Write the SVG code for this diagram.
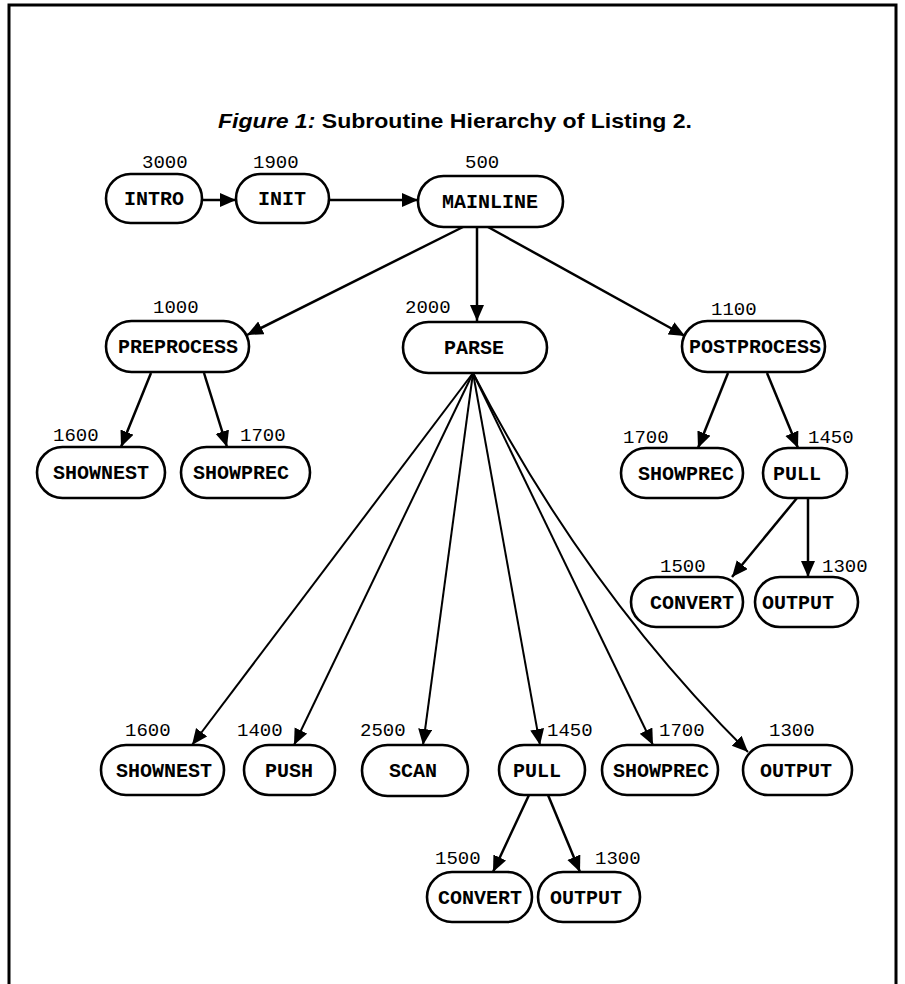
<svg xmlns="http://www.w3.org/2000/svg" width="905" height="984" viewBox="0 0 905 984">
<defs>
<marker id="ah" markerUnits="userSpaceOnUse" markerWidth="17" markerHeight="15" refX="16" refY="7" orient="auto">
<path d="M0,0 L16,7 L0,14 Z" fill="#000"/>
</marker>
<style>
.box{fill:#fff;stroke:#000;stroke-width:2.6}
.lbl{font-family:"Liberation Mono","Courier New",monospace;font-size:20px;font-weight:bold;text-anchor:middle;fill:#000}
.num{font-family:"Liberation Mono","Courier New",monospace;font-size:19px;fill:#000}
.c{stroke:#000;stroke-width:2.5;fill:none;marker-end:url(#ah)}
.f{stroke-width:2}
.title{font-family:"Liberation Sans",Arial,sans-serif;font-size:21px;font-weight:bold;fill:#000}
</style>
</defs>
<rect width="905" height="984" fill="#fff"/>
<path d="M9,984 V5 H896 V984" fill="none" stroke="#000" stroke-width="3"/>
<text class="title" x="218" y="128" textLength="474" lengthAdjust="spacingAndGlyphs"><tspan font-style="italic">Figure 1:</tspan> Subroutine Hierarchy of Listing 2.</text>

<g id="connectors">
<line class="c" x1="202" y1="200" x2="236" y2="200"/>
<line class="c" x1="329" y1="200" x2="418" y2="200"/>
<line class="c" x1="463" y1="227" x2="247" y2="335"/>
<line class="c" x1="477" y1="227" x2="477" y2="321"/>
<line class="c" x1="488" y1="227" x2="685" y2="336"/>
<line class="c" x1="151" y1="373" x2="121" y2="447"/>
<line class="c" x1="204" y1="373" x2="227" y2="447"/>
<line class="c" x1="728" y1="373" x2="698" y2="448"/>
<line class="c" x1="767" y1="373" x2="798" y2="448"/>
<line class="c" x1="797" y1="498" x2="732" y2="577"/>
<line class="c" x1="808" y1="498" x2="808" y2="577"/>
<line class="c f" x1="473" y1="373" x2="192" y2="745"/>
<line class="c f" x1="473" y1="373" x2="294" y2="745"/>
<line class="c f" x1="473" y1="373" x2="423" y2="745"/>
<line class="c f" x1="473" y1="373" x2="540" y2="745"/>
<line class="c f" x1="473" y1="373" x2="653" y2="745"/>
<path class="c f" d="M473,373 Q585,590 748,752"/>
<line class="c" x1="529" y1="795" x2="493" y2="872"/>
<line class="c" x1="548" y1="795" x2="580" y2="872"/>
</g>

<g id="intro"><rect class="box" x="106" y="174" width="96" height="49" rx="24.5"/><text class="lbl" x="154" y="205">INTRO</text><text class="num" x="142" y="168">3000</text></g>
<g id="init"><rect class="box" x="236" y="174" width="93" height="49" rx="24.5"/><text class="lbl" x="282" y="205">INIT</text><text class="num" x="253" y="168">1900</text></g>
<g id="mainline"><rect class="box" x="418" y="176" width="145" height="51" rx="25.5"/><text class="lbl" x="490" y="208">MAINLINE</text><text class="num" x="465" y="168">500</text></g>

<g id="preprocess"><rect class="box" x="106" y="321" width="143" height="51" rx="25.5"/><text class="lbl" x="178" y="353">PREPROCESS</text><text class="num" x="153" y="313">1000</text></g>
<g id="parse"><rect class="box" x="403" y="322" width="144" height="51" rx="25.5"/><text class="lbl" x="474" y="354">PARSE</text><text class="num" x="405" y="313">2000</text></g>
<g id="postprocess"><rect class="box" x="682" y="321" width="143" height="51" rx="25.5"/><text class="lbl" x="755" y="353">POSTPROCESS</text><text class="num" x="711" y="315">1100</text></g>

<g id="shownest-1"><rect class="box" x="37" y="447" width="128" height="51" rx="25.5"/><text class="lbl" x="101" y="479">SHOWNEST</text><text class="num" x="53" y="441">1600</text></g>
<g id="showprec-1"><rect class="box" x="181" y="447" width="129" height="51" rx="25.5"/><text class="lbl" x="241" y="479">SHOWPREC</text><text class="num" x="240" y="441">1700</text></g>
<g id="showprec-2"><rect class="box" x="621" y="448" width="122" height="50" rx="25"/><text class="lbl" x="686" y="480">SHOWPREC</text><text class="num" x="623" y="443">1700</text></g>
<g id="pull-1"><rect class="box" x="763" y="448" width="84" height="50" rx="25"/><text class="lbl" x="797" y="480">PULL</text><text class="num" x="808" y="443">1450</text></g>
<g id="convert-1"><rect class="box" x="631" y="577" width="112" height="50" rx="25"/><text class="lbl" x="692" y="609">CONVERT</text><text class="num" x="660" y="572">1500</text></g>
<g id="output-1"><rect class="box" x="755" y="577" width="103" height="50" rx="25"/><text class="lbl" x="798" y="609">OUTPUT</text><text class="num" x="822" y="572">1300</text></g>

<g id="shownest-2"><rect class="box" x="101" y="745" width="123" height="50" rx="25"/><text class="lbl" x="164" y="777">SHOWNEST</text><text class="num" x="125" y="736">1600</text></g>
<g id="push"><rect class="box" x="244" y="745" width="91" height="50" rx="25"/><text class="lbl" x="289" y="777">PUSH</text><text class="num" x="237" y="736">1400</text></g>
<g id="scan"><rect class="box" x="362" y="745" width="106" height="51" rx="25.5"/><text class="lbl" x="413" y="777">SCAN</text><text class="num" x="360" y="736">2500</text></g>
<g id="pull-2"><rect class="box" x="499" y="745" width="86" height="50" rx="25"/><text class="lbl" x="537" y="777">PULL</text><text class="num" x="547" y="736">1450</text></g>
<g id="showprec-3"><rect class="box" x="602" y="745" width="116" height="50" rx="25"/><text class="lbl" x="661" y="777">SHOWPREC</text><text class="num" x="659" y="736">1700</text></g>
<g id="output-2"><rect class="box" x="743" y="745" width="109" height="50" rx="25"/><text class="lbl" x="796" y="777">OUTPUT</text><text class="num" x="769" y="736">1300</text></g>
<g id="convert-2"><rect class="box" x="427" y="872" width="105" height="50" rx="25"/><text class="lbl" x="480" y="904">CONVERT</text><text class="num" x="435" y="864">1500</text></g>
<g id="output-3"><rect class="box" x="538" y="872" width="102" height="50" rx="25"/><text class="lbl" x="586" y="904">OUTPUT</text><text class="num" x="595" y="864">1300</text></g>
</svg>
